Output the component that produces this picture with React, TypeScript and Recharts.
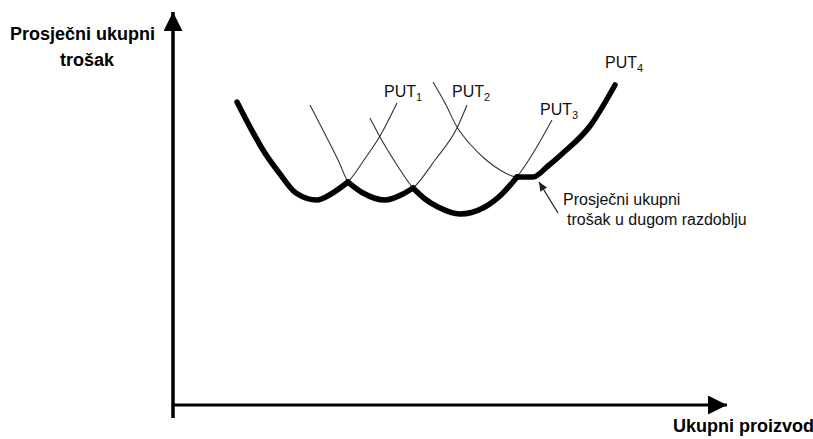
import React from 'react';
import { LineChart, Line, XAxis, YAxis, ReferenceLine } from 'recharts';

type P = { x: number; y: number };

// Short-run average total cost curves (PUT1..PUT4)
const put1: P[] = [
  { x: 64, y: 303 }, { x: 77, y: 278 }, { x: 90, y: 255 }, { x: 107, y: 231 },
  { x: 123, y: 212 }, { x: 144, y: 205 }, { x: 158, y: 211 }, { x: 175, y: 223 },
  { x: 191, y: 245 }, { x: 207, y: 269 }, { x: 224, y: 302 },
];
const put2: P[] = [
  { x: 137, y: 300 }, { x: 154, y: 267 }, { x: 166, y: 243 }, { x: 175, y: 223 },
  { x: 190, y: 212 }, { x: 212, y: 205 }, { x: 230, y: 211 }, { x: 240, y: 217 },
  { x: 262, y: 245 }, { x: 284, y: 277 }, { x: 294, y: 300 },
];
const put3: P[] = [
  { x: 197, y: 287 }, { x: 207, y: 268 }, { x: 224, y: 240 }, { x: 240, y: 217 },
  { x: 252, y: 206 }, { x: 265, y: 198 }, { x: 287, y: 191 }, { x: 310, y: 197 },
  { x: 329, y: 211 }, { x: 344, y: 228 }, { x: 362, y: 255 }, { x: 379, y: 285 },
];
const put4: P[] = [
  { x: 260, y: 323 }, { x: 272, y: 302 }, { x: 284, y: 278 }, { x: 297, y: 261 },
  { x: 312, y: 246 }, { x: 327, y: 235 }, { x: 344, y: 228 }, { x: 360, y: 228 },
  { x: 375, y: 239 }, { x: 390, y: 252 }, { x: 417, y: 279 }, { x: 442, y: 320 },
];

// Long-run average total cost (envelope) built from pieces of the short-run curves
const envelopePieces: P[][] = [
  put1.slice(0, 8),
  put2.slice(3, 8),
  put3.slice(3, 10),
  put4.slice(6),
];

const yAxisSegment = [{ x: 0, y: -13 }, { x: 0, y: 393 }];
const xAxisSegment = [{ x: 0, y: 0 }, { x: 554, y: 0 }];
const pointerSegment = [{ x: 385, y: 192 }, { x: 366, y: 223 }];

const yTitle = ['Prosječni ukupni', 'trošak'];
const xTitle = 'Ukupni proizvod';
const curveLabels = ['PUT', 'PUT', 'PUT', 'PUT'];
const curveSubs = ['1', '2', '3', '4'];
const pointerText = ['Prosječni ukupni', 'trošak u dugom razdoblju'];

const labelPos = [
  { x: 384, y: 97 },
  { x: 452, y: 97 },
  { x: 540, y: 115 },
  { x: 605, y: 68 },
];

const FONT = '"Liberation Sans", Arial, Helvetica, sans-serif';

export default function App() {
  return (
    <div style={{ position: 'absolute', left: 0, top: 0, width: 813, height: 439, background: '#fff' }}>
      <svg width={0} height={0} style={{ position: 'absolute' }}>
        <defs>
          <marker id="axisArrow" markerUnits="userSpaceOnUse" markerWidth={20} markerHeight={20}
            refX={19} refY={9.5} orient="auto" viewBox="0 0 20 20">
            <path d="M0,0 L19,9.5 L0,19 Z" fill="#000" />
          </marker>
          <marker id="smallArrow" markerUnits="userSpaceOnUse" markerWidth={10} markerHeight={10}
            refX={9} refY={4} orient="auto" viewBox="0 0 10 10">
            <path d="M0,0 L9,4 L0,8 Z" fill="#222" />
          </marker>
        </defs>
      </svg>
      <LineChart
        width={813}
        height={439}
        margin={{ top: 15, right: 103, bottom: 34, left: 173 }}
      >
        <XAxis type="number" dataKey="x" domain={[0, 537]} hide allowDataOverflow />
        <YAxis type="number" dataKey="y" domain={[0, 390]} hide allowDataOverflow />
        <ReferenceLine segment={yAxisSegment} stroke="#000" strokeWidth={3.5} ifOverflow="visible"
          markerEnd="url(#axisArrow)" />
        <ReferenceLine segment={xAxisSegment} stroke="#000" strokeWidth={3} ifOverflow="visible"
          markerEnd="url(#axisArrow)" />
        <ReferenceLine segment={pointerSegment} stroke="#222" strokeWidth={1.3} ifOverflow="visible"
          markerEnd="url(#smallArrow)" />
        {[put1, put2, put3, put4].map((d, i) => (
          <Line key={'put' + i} data={d} dataKey="y" type="monotone" stroke="#333" strokeWidth={1.1}
            dot={false} isAnimationActive={false} />
        ))}
        {envelopePieces.map((d, i) => (
          <Line key={'env' + i} data={d} dataKey="y" type="monotone" stroke="#000" strokeWidth={5.5}
            strokeLinecap="round" strokeLinejoin="round" dot={false} isAnimationActive={false} />
        ))}
      </LineChart>
      <svg width={813} height={439} style={{ position: 'absolute', left: 0, top: 0, pointerEvents: 'none' }}
        fontFamily={FONT}>
        <text x={10} y={40} fontSize={18} fontWeight="bold" fill="#000">{yTitle[0]}</text>
        <text x={87} y={66} fontSize={18} fontWeight="bold" fill="#000" textAnchor="middle">{yTitle[1]}</text>
        <text x={673} y={432} fontSize={18} fontWeight="bold" fill="#000">{xTitle}</text>
        {curveLabels.map((t, i) => (
          <text key={i} x={labelPos[i].x} y={labelPos[i].y} fontSize={16} fill="#111">
            {t}
            <tspan fontSize={11} dy={4}>{curveSubs[i]}</tspan>
          </text>
        ))}
        <text x={563} y={205} fontSize={16} fill="#111">{pointerText[0]}</text>
        <text x={567} y={225} fontSize={16} fill="#111">{pointerText[1]}</text>
      </svg>
    </div>
  );
}
